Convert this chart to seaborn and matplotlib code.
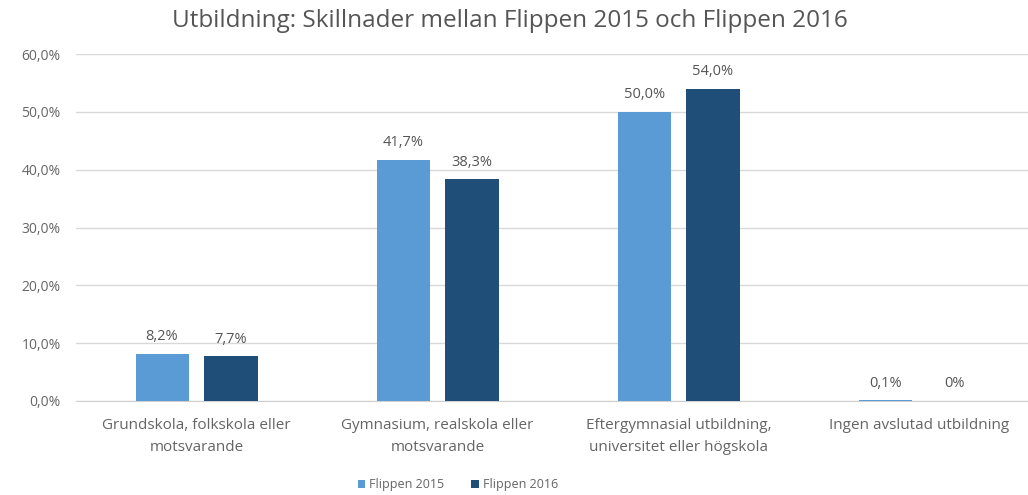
import matplotlib
matplotlib.use("Agg")
import matplotlib.pyplot as plt
import seaborn as sns
import pandas as pd
from matplotlib.ticker import FuncFormatter

categories = [
    "Grundskola, folkskola eller\nmotsvarande",
    "Gymnasium, realskola eller\nmotsvarande",
    "Eftergymnasial utbildning,\nuniversitet eller högskola",
    "Ingen avslutad utbildning",
]
series_names = ["Flippen 2015", "Flippen 2016"]
values_2015 = [0.082, 0.417, 0.500, 0.001]
values_2016 = [0.077, 0.383, 0.540, 0.000]
labels_2015 = ["8,2%", "41,7%", "50,0%", "0,1%"]
labels_2016 = ["7,7%", "38,3%", "54,0%", "0%"]
colors = ["#5B9BD5", "#1F4E79"]

df = pd.DataFrame({
    "Kategori": categories * 2,
    "Serie": [series_names[0]] * 4 + [series_names[1]] * 4,
    "Andel": values_2015 + values_2016,
})

sns.set_style("white")
plt.rcParams["font.family"] = ["Open Sans", "DejaVu Sans"]

fig = plt.figure(figsize=(10.28, 4.95), dpi=100)
ax = fig.add_axes([76 / 1028, 1 - 401 / 495, (1028 - 76) / 1028, (401 - 54) / 495])

sns.barplot(data=df, x="Kategori", y="Andel", hue="Serie", palette=colors,
            saturation=1, width=0.572, gap=0.23, ax=ax, legend=True, zorder=3,
            linewidth=0)

ax.set_xlim(-0.5, 3.45)
ax.set_ylim(0, 0.6)
ax.set_yticks([0, 0.1, 0.2, 0.3, 0.4, 0.5, 0.6])
ax.yaxis.set_major_formatter(FuncFormatter(lambda v, p: f"{v*100:.1f}%".replace(".", ",")))
ax.grid(axis="y", color="#d9d9d9", linewidth=1, zorder=0)
for s in ["top", "right", "left"]:
    ax.spines[s].set_visible(False)
ax.spines["bottom"].set_color("#d0d0d0")
ax.tick_params(axis="y", length=0, labelsize=10, colors="#656565", pad=11)
ax.tick_params(axis="x", length=0, labelsize=11, colors="#656565", pad=12)
for t in ax.get_xticklabels():
    t.set_linespacing(1.65)
ax.set_xlabel("")
ax.set_ylabel("")

for cont, labs in zip(ax.containers, [labels_2015, labels_2016]):
    ax.bar_label(cont, labels=labs, padding=7, fontsize=10.5, color="#555555")

ax.legend(loc="center", bbox_to_anchor=(0.401, -0.242), ncol=2, frameon=False,
          fontsize=9, handlelength=0.6, handleheight=0.6, handletextpad=0.3,
          columnspacing=2.2, labelcolor="#656565")

fig.text(0.496, 0.958, "Utbildning: Skillnader mellan Flippen 2015 och Flippen 2016",
         ha="center", va="center", fontsize=17.5, color="#555555")

fig.savefig("out.png", dpi=100)
